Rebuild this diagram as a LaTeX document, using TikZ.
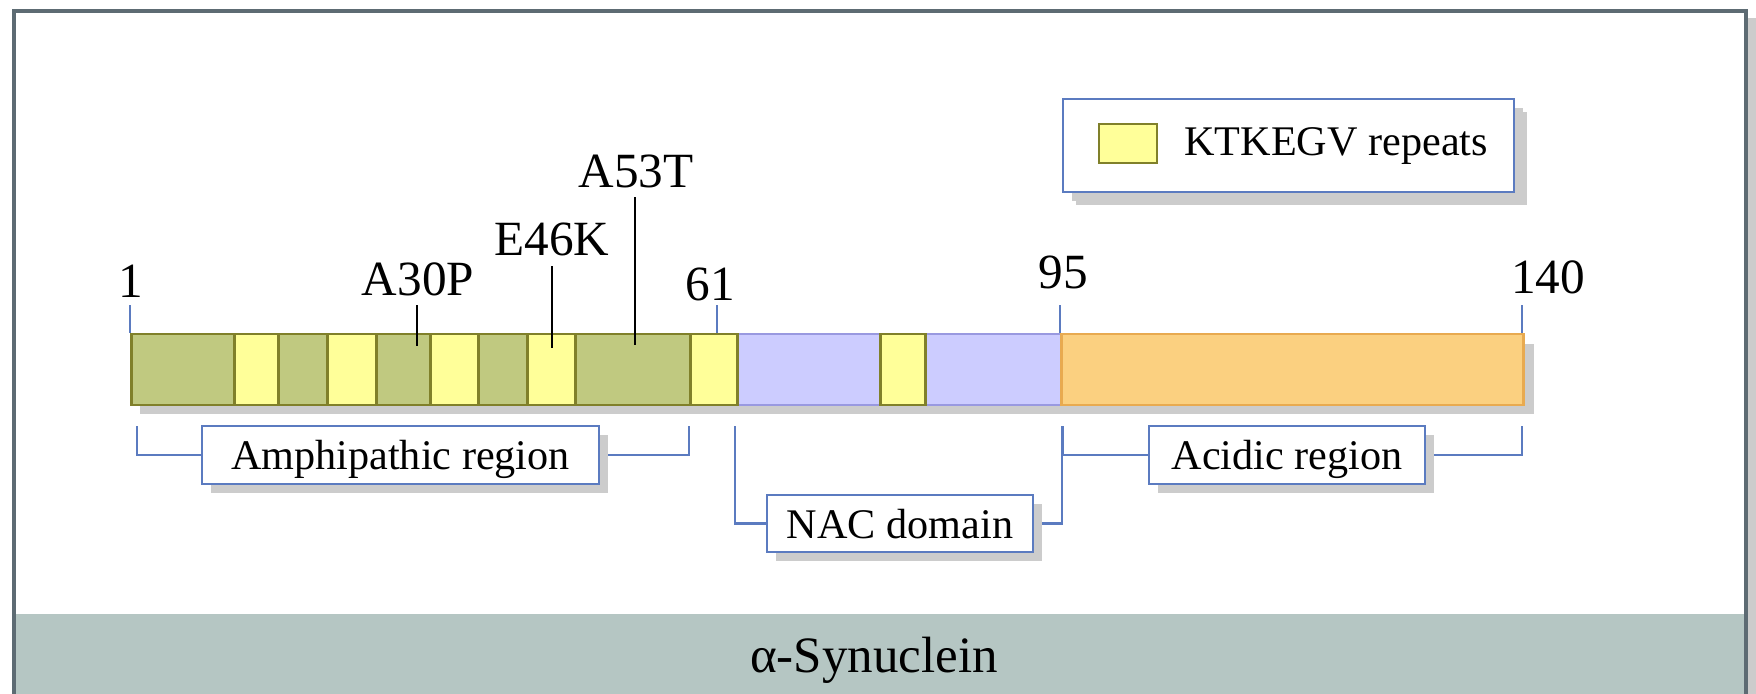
\documentclass[tikz,border=0pt]{standalone}
\usepackage{fontspec}
\setmainfont{Liberation Serif}
\usetikzlibrary{shadows, backgrounds}
\definecolor{olivebd}{HTML}{80802A}
\definecolor{greenfill}{HTML}{C0C980}
\definecolor{yellowfill}{HTML}{FFFF99}
\definecolor{purplefill}{HTML}{CCCCFF}
\definecolor{purplebd}{HTML}{9999E0}
\definecolor{orangefill}{HTML}{FBD080}
\definecolor{orangebd}{HTML}{E8AA50}
\definecolor{bluebd}{HTML}{5B7BC0}
\definecolor{shadowgray}{HTML}{CCCCCC}
\definecolor{framegray}{HTML}{5D6B73}
\definecolor{bandgray}{HTML}{B5C6C3}

\tikzset{
	seg/.style={draw, line width=0.8pt, inner sep=0pt, minimum height=0.71cm, anchor=west},
	greenseg/.style={seg, draw=olivebd, fill=greenfill},
	yellowseg/.style={seg, draw=olivebd, fill=yellowfill},
	purpleseg/.style={seg, draw=purplebd, fill=purplefill},
	orangeseg/.style={seg, draw=orangebd, fill=orangefill},
	num/.style={font=\fontsize{14pt}{16pt}\selectfont, anchor=base},
	regionbox/.style={draw=bluebd, fill=white, line width=0.75pt, text depth=0pt,
		font=\fontsize{12pt}{14pt}\selectfont, minimum height=0.58cm,
		drop shadow={shadow xshift=0.09cm, shadow yshift=-0.09cm, fill=shadowgray, opacity=1}},
	tick/.style={draw=bluebd, line width=0.75pt},
	mut/.style={draw=black, line width=0.75pt},
	brk/.style={draw=bluebd, line width=0.75pt}
}

\begin{document}
\begin{tikzpicture}[x=0.01cm, y=-0.01cm]
		\useasboundingbox (0,0) rectangle (1756,694);
		\fill[bandgray] (14,614) rectangle (1746,694);
		\fill[shadowgray] (1748,18) rectangle (1756,694);
		\draw[framegray, line width=1.14pt] (14,700) -- (14,11) -- (1746,11) -- (1746,700);
		\node[font=\fontsize{14.5pt}{16pt}\selectfont, text depth=0pt] (title) at (874,655) {α-Synuclein};

		\fill[shadowgray] (140,344) rectangle (1534,414);
		\draw (130,369.5) node[greenseg, minimum width=1.03cm] (g1) {}
		(277,369.5) node[greenseg, minimum width=0.49cm] (g2) {}
		(375,369.5) node[greenseg, minimum width=0.54cm] (g3) {}
		(477,369.5) node[greenseg, minimum width=0.49cm] (g4) {}
		(574,369.5) node[greenseg, minimum width=1.15cm] (g5) {}
		(736,369.5) node[purpleseg, minimum width=1.43cm] (p1) {}
		(924,369.5) node[purpleseg, minimum width=1.36cm] (p2) {}
		(1060,369.5) node[orangeseg, minimum width=4.62cm] (o1) {}
		(233,369.5) node[yellowseg, minimum width=0.44cm] (y1) {}
		(326,369.5) node[yellowseg, minimum width=0.49cm] (y2) {}
		(429,369.5) node[yellowseg, minimum width=0.48cm] (y3) {}
		(526,369.5) node[yellowseg, minimum width=0.48cm] (y4) {}
		(689,369.5) node[yellowseg, minimum width=0.47cm] (y5) {}
		(879,369.5) node[yellowseg, minimum width=0.45cm] (y6) {};

		\draw (131,297) node[num] (n1) {1}
		(710,300) node[num] (n61) {61}
		(1063,288) node[num] (n95) {95}
		(1548,293) node[num] (n140) {140}
		(418,295) node[num] (a30p) {A30P}
		(552,255) node[num] (e46k) {E46K}
		(636,187) node[num] (a53t) {A53T};

		\coordinate (t1) at (130,305);
		\coordinate (t61) at (717,305);
		\coordinate (t95) at (1060,305);
		\coordinate (t140) at (1522,305);
		\draw[tick] (t1) -- (t1 |- g1.north);
		\draw[tick] (t61) -- (t61 |- y5.north);
		\draw[tick] (t95) -- (t95 |- o1.north);
		\draw[tick] (t140) -- (t140 |- o1.north);

		\coordinate (m30) at (417,305);
		\coordinate (m30e) at (417,346);
		\coordinate (m46) at (552,266);
		\coordinate (m46e) at (552,348);
		\coordinate (m53) at (635,197);
		\coordinate (m53e) at (635,345);
		\draw[mut] (m30) -- (m30e);
		\draw[mut] (m46) -- (m46e);
		\draw[mut] (m53) -- (m53e);

		\draw (400.5,455) node[regionbox, minimum width=3.97cm] (amph) {Amphipathic region}
		(900,523.5) node[regionbox, minimum width=2.66cm, minimum height=0.57cm] (nac) {NAC domain}
		(1287,455) node[regionbox, minimum width=2.76cm] (acid) {Acidic region};

		\coordinate (amphl) at (137,426);
		\coordinate (amphr) at (689,426);
		\coordinate (nacl) at (735,426);
		\coordinate (nacr) at (1062,426);
		\coordinate (acidl) at (1063,426);
		\coordinate (acidr) at (1522,426);
		\begin{scope}[on background layer]
		\draw[brk] (amphl) |- (amph.west);
		\draw[brk] (amphr) |- (amph.east);
		\draw[brk] (nacl) |- (nac.west);
		\draw[brk] (nacr) |- (nac.east);
		\draw[brk] (acidl) |- (acid.west);
		\draw[brk] (acidr) |- (acid.east);
		\end{scope}

		\draw (1288.5,145.5) node[regionbox, minimum width=4.51cm, minimum height=0.93cm,
			drop shadow={shadow xshift=0.13cm, shadow yshift=-0.13cm, fill=shadowgray, opacity=1}] (legend) {}
		(1128,143.5) node[draw=olivebd, fill=yellowfill, line width=0.8pt, minimum width=0.58cm, minimum height=0.39cm, inner sep=0pt] (key) {}
		(1172,156) node[anchor=base west, font=\fontsize{12pt}{14pt}\selectfont] (keytext) {KTKEGV repeats};
	\end{tikzpicture}
\end{document}
